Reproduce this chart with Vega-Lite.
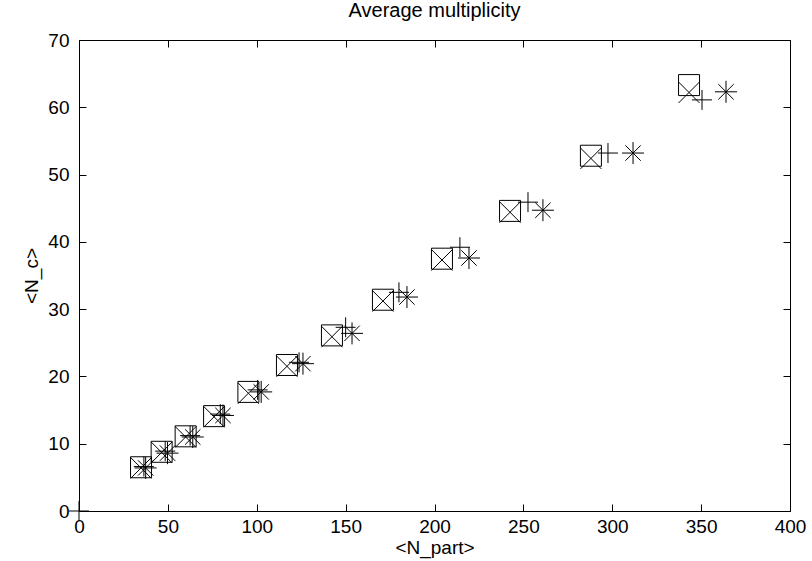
{
  "$schema": "https://vega.github.io/schema/vega-lite/v6.json",
  "width": 711,
  "height": 471,
  "autosize": {"type": "none"},
  "padding": {"left": 79, "top": 40, "right": 22, "bottom": 50},
  "background": "white",
  "title": {"text": "Average multiplicity", "font": "Liberation Sans", "fontSize": 20, "fontWeight": "normal", "color": "black", "offset": 10},
  "config": {
    "view": {"stroke": null},
    "axis": {"grid": false, "domainColor": "black", "domainWidth": 1, "tickColor": "black", "tickWidth": 1, "labelColor": "black", "labelFont": "Liberation Sans", "labelFontSize": 19, "titleFont": "Liberation Sans", "titleFontSize": 19, "titleFontWeight": "normal", "titleColor": "black"}
  },
  "resolve": {"axis": {"x": "independent", "y": "independent"}},
  "data": {"values": [
    {"s": "sq", "x": 34.9, "y": 6.5}, {"s": "sq", "x": 46.5, "y": 8.8}, {"s": "sq", "x": 60, "y": 11.1}, {"s": "sq", "x": 76, "y": 14.1}, {"s": "sq", "x": 95.3, "y": 17.7}, {"s": "sq", "x": 117, "y": 21.7}, {"s": "sq", "x": 142.3, "y": 26.1}, {"s": "sq", "x": 171, "y": 31.4}, {"s": "sq", "x": 204.2, "y": 37.5}, {"s": "sq", "x": 242.5, "y": 44.6}, {"s": "sq", "x": 288, "y": 52.8}, {"s": "sq", "x": 343.2, "y": 63.3},
    {"s": "x", "x": 34.9, "y": 6.4}, {"s": "x", "x": 46.5, "y": 8.7}, {"s": "x", "x": 60, "y": 11.0}, {"s": "x", "x": 76, "y": 14.0}, {"s": "x", "x": 95.3, "y": 17.5}, {"s": "x", "x": 117, "y": 21.5}, {"s": "x", "x": 142.3, "y": 25.9}, {"s": "x", "x": 171, "y": 31.2}, {"s": "x", "x": 204.2, "y": 37.3}, {"s": "x", "x": 242.5, "y": 44.4}, {"s": "x", "x": 288, "y": 52.4}, {"s": "x", "x": 343.2, "y": 62.2},
    {"s": "plus", "x": 0, "y": 0}, {"s": "plus", "x": 36.5, "y": 6.6}, {"s": "plus", "x": 48.5, "y": 8.9}, {"s": "plus", "x": 62.5, "y": 11.2}, {"s": "plus", "x": 79.5, "y": 14.4}, {"s": "plus", "x": 100.5, "y": 18.0}, {"s": "plus", "x": 123.8, "y": 22.1}, {"s": "plus", "x": 150, "y": 27.3}, {"s": "plus", "x": 180, "y": 32.5}, {"s": "plus", "x": 214.3, "y": 39.2}, {"s": "plus", "x": 252.6, "y": 45.9}, {"s": "plus", "x": 297.6, "y": 53.2}, {"s": "plus", "x": 350.5, "y": 61.1},
    {"s": "ast", "x": 37.5, "y": 6.4}, {"s": "ast", "x": 49.8, "y": 8.6}, {"s": "ast", "x": 64, "y": 11.0}, {"s": "ast", "x": 81, "y": 14.2}, {"s": "ast", "x": 102.5, "y": 17.7}, {"s": "ast", "x": 126, "y": 21.9}, {"s": "ast", "x": 153.6, "y": 26.4}, {"s": "ast", "x": 184.5, "y": 31.8}, {"s": "ast", "x": 219.4, "y": 37.6}, {"s": "ast", "x": 261, "y": 44.7}, {"s": "ast", "x": 311.7, "y": 53.2}, {"s": "ast", "x": 364, "y": 62.3}
  ]},
  "layer": [
    {
      "transform": [{"filter": "datum.s === 'sq'"}],
      "mark": {"type": "point", "shape": "square", "size": 441, "filled": false, "stroke": "black", "strokeWidth": 1, "opacity": 1},
      "encoding": {
        "x": {"field": "x", "type": "quantitative", "scale": {"domain": [0, 400], "nice": false, "zero": false}, "axis": {"orient": "bottom", "values": [0, 50, 100, 150, 200, 250, 300, 350, 400], "tickSize": -7, "labelPadding": 13, "title": "<N_part>", "titlePadding": 2, "labelFlush": false}},
        "y": {"field": "y", "type": "quantitative", "scale": {"domain": [0, 70], "nice": false, "zero": false}, "axis": {"orient": "left", "values": [0, 10, 20, 30, 40, 50, 60, 70], "tickSize": -7, "labelPadding": 17, "title": "<N_c>", "titlePadding": 6, "labelFlush": false}}
      }
    },
    {
      "transform": [{"filter": "datum.s === 'x'"}],
      "mark": {"type": "point", "shape": "M-1,-1L1,1M-1,1L1,-1", "size": 441, "filled": false, "stroke": "black", "strokeWidth": 1, "opacity": 1},
      "encoding": {
        "x": {"field": "x", "type": "quantitative", "axis": {"orient": "top", "values": [0, 50, 100, 150, 200, 250, 300, 350, 400], "tickSize": -7, "labels": false, "title": null}},
        "y": {"field": "y", "type": "quantitative", "axis": {"orient": "right", "values": [0, 10, 20, 30, 40, 50, 60, 70], "tickSize": -7, "labels": false, "title": null}}
      }
    },
    {
      "transform": [{"filter": "datum.s === 'plus'"}],
      "mark": {"type": "point", "shape": "M-1,0L1,0M0,-1L0,1", "size": 400, "filled": false, "stroke": "black", "strokeWidth": 1, "opacity": 1},
      "encoding": {
        "x": {"field": "x", "type": "quantitative", "axis": null},
        "y": {"field": "y", "type": "quantitative", "axis": null}
      }
    },
    {
      "transform": [{"filter": "datum.s === 'ast'"}],
      "mark": {"type": "point", "shape": "M-1,0L1,0M0,-1L0,1M-0.7,-0.7L0.7,0.7M-0.7,0.7L0.7,-0.7", "size": 484, "filled": false, "stroke": "black", "strokeWidth": 1, "opacity": 1},
      "encoding": {
        "x": {"field": "x", "type": "quantitative", "axis": null},
        "y": {"field": "y", "type": "quantitative", "axis": null}
      }
    }
  ]
}
